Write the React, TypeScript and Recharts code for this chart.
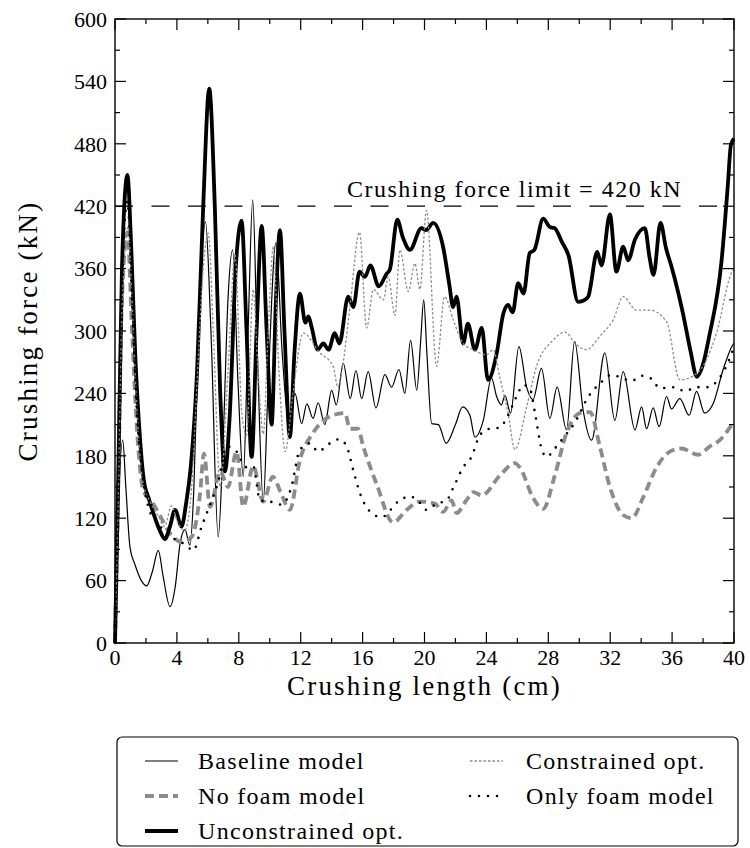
import React from "react";
import { LineChart, Line, XAxis, YAxis, ReferenceLine } from "recharts";

// crushing force curves, [length (cm), force (kN)]
const baseline: [number, number][] = [
  [0, 0], [0.2, 120], [0.5, 195], [0.7, 150], [0.97, 92], [1.3, 75], [1.7, 60], [2.05, 55],
  [2.4, 68], [2.8, 89], [3.1, 65], [3.55, 35], [3.9, 55], [4.2, 95], [4.52, 109], [4.84, 94],
  [5.1, 150], [5.4, 300], [5.85, 405], [6.2, 300], [6.67, 102], [7.0, 200], [7.3, 330],
  [7.6, 378], [7.95, 250], [8.29, 160], [8.6, 300], [8.9, 426], [9.2, 280], [9.58, 136],
  [9.9, 250], [10.4, 385], [10.8, 280], [11.2, 215], [11.63, 240], [12.06, 211], [12.4, 230],
  [12.8, 216], [13.13, 231], [13.56, 210], [14.0, 243], [14.3, 229], [14.75, 269], [15.2, 235],
  [15.57, 262], [15.94, 235], [16.36, 261], [16.86, 226], [17.44, 258], [17.87, 246],
  [18.35, 263], [18.73, 240], [19.1, 291], [19.5, 243], [19.75, 290], [19.95, 330],
  [20.15, 280], [20.46, 211], [20.9, 210], [21.4, 192], [22.0, 210], [22.46, 227],
  [22.93, 219], [23.26, 198], [23.8, 214], [24.33, 255], [24.66, 237], [24.97, 229],
  [25.2, 238], [25.56, 221], [26.1, 285], [26.6, 246], [27.0, 234], [27.56, 264], [28.1, 216],
  [28.57, 246], [29.18, 205], [29.7, 290], [30.25, 224], [30.8, 195], [31.65, 279],
  [32.3, 214], [32.84, 261], [33.6, 205], [34.03, 227], [34.35, 206], [34.78, 226],
  [35.16, 208], [35.64, 237], [35.96, 225], [36.5, 235], [37.1, 219], [37.58, 242],
  [38.1, 221], [38.65, 230], [39.3, 263], [39.94, 287], [40, 288],
];

const noFoam: [number, number][] = [
  [0, 0], [0.2, 140], [0.45, 330], [0.8, 395], [1.1, 300], [1.4, 210], [1.83, 147],
  [2.47, 134], [3.0, 120], [3.44, 108], [3.9, 100], [4.3, 97], [4.95, 102], [5.5, 144],
  [5.75, 182], [6.14, 131], [6.8, 165], [7.3, 150], [7.86, 184], [8.29, 131], [8.93, 170],
  [9.58, 136], [10.2, 160], [10.7, 145], [11.3, 128], [11.95, 176], [12.8, 202], [13.9, 218],
  [14.86, 221], [15.18, 206], [15.7, 206], [16.04, 189], [16.9, 153], [17.98, 116],
  [18.84, 128], [19.7, 136], [20.67, 134], [21.2, 126], [21.75, 137], [22.07, 125],
  [22.7, 137], [23.15, 145], [23.7, 142], [24.87, 161], [25.84, 173], [26.2, 168], [27, 140],
  [27.67, 129], [28.4, 160], [29.18, 202], [30.04, 221], [30.7, 222], [31.33, 189],
  [31.98, 150], [32.84, 123], [33.4, 120], [34.13, 140], [35, 169], [35.85, 184], [36.6, 187],
  [37.68, 181], [38.44, 189], [39.08, 195], [39.94, 211], [40, 212],
];

const unconstrained: [number, number][] = [
  [0, 0], [0.2, 150], [0.45, 360], [0.8, 450], [1.05, 380], [1.3, 280], [1.6, 200],
  [1.85, 158], [2.2, 138], [2.5, 124], [2.9, 108], [3.23, 100], [3.55, 112], [3.88, 128],
  [4.3, 112], [4.6, 135], [4.9, 170], [5.3, 260], [5.7, 420], [6.09, 533], [6.45, 420],
  [6.8, 240], [7.1, 165], [7.4, 215], [7.8, 360], [8.18, 406], [8.5, 300], [8.83, 179],
  [9.15, 300], [9.48, 401], [9.8, 300], [10.12, 210], [10.4, 330], [10.66, 397], [10.95, 300],
  [11.3, 198], [11.6, 280], [11.95, 336], [12.3, 308], [12.5, 314], [12.7, 304], [13.1, 282],
  [13.46, 288], [13.8, 282], [14.2, 298], [14.5, 288], [15.07, 333], [15.4, 323], [15.8, 357],
  [16.15, 352], [16.5, 363], [17.05, 343], [17.55, 355], [17.76, 359], [18.24, 407],
  [18.6, 390], [19.06, 378], [19.8, 399], [20.1, 397], [20.56, 404], [21.2, 381], [21.6, 345],
  [21.85, 323], [22.07, 333], [22.5, 288], [22.8, 307], [23.26, 282], [23.7, 303], [24.1, 253],
  [24.66, 278], [25.1, 317], [25.4, 325], [25.7, 318], [26.05, 346], [26.4, 336], [26.8, 375],
  [27.1, 378], [27.67, 408], [28.1, 400], [28.4, 399], [28.9, 385], [29.3, 373], [29.93, 328],
  [30.36, 330], [30.58, 333], [31.16, 376], [31.44, 363], [31.98, 412], [32.4, 357],
  [32.84, 381], [33.16, 368], [33.6, 388], [34.24, 399], [34.55, 370], [34.8, 354],
  [35.25, 404], [35.6, 380], [35.96, 362], [36.7, 317], [37.2, 280], [37.6, 256], [38.0, 268],
  [38.4, 295], [39.2, 368], [39.6, 440], [39.8, 479], [40, 485],
];

const constrained: [number, number][] = [
  [0, 0], [0.2, 130], [0.45, 320], [0.85, 400], [1.1, 330], [1.4, 230], [1.8, 155],
  [2.3, 135], [2.8, 122], [3.2, 112], [3.66, 132], [4.0, 118], [4.5, 108], [4.9, 140],
  [5.3, 250], [5.7, 360], [6.03, 394], [6.35, 300], [6.8, 150], [7.3, 260], [7.75, 374],
  [8.2, 220], [8.5, 200], [8.93, 340], [9.25, 260], [9.58, 201], [9.9, 300], [10.23, 381],
  [10.6, 260], [11.0, 184], [11.5, 240], [12.16, 298], [13.24, 279], [14.1, 266], [14.4, 246],
  [14.75, 270], [15.18, 323], [15.8, 395], [16.26, 303], [16.7, 340], [17.34, 330],
  [17.66, 352], [18.09, 315], [18.41, 378], [18.95, 338], [19.38, 365], [19.7, 340],
  [20.13, 416], [20.78, 266], [21.3, 333], [21.85, 311], [22.5, 288], [23.15, 282], [24.0, 277],
  [24.44, 282], [24.87, 255], [25.4, 221], [25.84, 186], [26.6, 227], [27.24, 266], [28.3, 291],
  [29.07, 299], [29.8, 287], [30.47, 282], [31.33, 295], [32.2, 311], [32.84, 333], [33.7, 320],
  [34.56, 320], [35.64, 309], [36.5, 253], [37.58, 259], [38.87, 298], [39.84, 356], [40, 360],
];

const onlyFoam: [number, number][] = [
  [0, 0], [0.2, 140], [0.45, 340], [0.8, 425], [1.1, 330], [1.4, 225], [1.8, 160],
  [2.26, 126], [2.8, 115], [3.3, 105], [3.98, 99], [4.5, 95], [5.06, 89], [5.6, 112],
  [6.14, 133], [6.67, 155], [7.2, 189], [7.8, 185], [8.5, 169], [8.93, 170], [9.37, 137],
  [10.0, 136], [10.77, 133], [11.4, 150], [11.95, 186], [12.6, 192], [13.13, 184], [13.78, 191],
  [14.5, 196], [14.97, 189], [15.4, 166], [15.83, 144], [16.58, 125], [17.23, 121], [18.3, 136],
  [19.06, 141], [19.7, 135], [20.14, 128], [20.78, 134], [21.43, 137], [21.85, 149], [22.5, 169],
  [23.04, 179], [23.58, 200], [24.22, 206], [24.87, 207], [25.3, 216], [25.95, 237],
  [26.38, 248], [26.8, 245], [27.13, 222], [27.56, 187], [27.89, 179], [28.42, 187],
  [28.96, 197], [29.8, 214], [30.47, 234], [31.44, 251], [32.09, 258], [32.73, 255],
  [33.38, 252], [34.03, 257], [34.67, 254], [35.2, 245], [36.18, 246], [36.82, 242],
  [37.58, 246], [38.33, 246], [38.97, 253], [39.4, 263], [39.73, 274], [40, 285],
];

const forceLimit = 420;
const xTicks = [0, 2, 4, 6, 8, 10, 12, 14, 16, 18, 20, 22, 24, 26, 28, 30, 32, 34, 36, 38, 40];
const yTicks = [0, 30, 60, 90, 120, 150, 180, 210, 240, 270, 300, 330, 360, 390, 420, 450, 480, 510, 540, 570, 600];

const toPts = (arr: [number, number][]) => arr.map(([x, y]) => ({ x, y }));

const series = [
  { name: "Baseline model", data: toPts(baseline), stroke: "#000", width: 1.2, dash: undefined, cap: "butt" },
  { name: "No foam model", data: toPts(noFoam), stroke: "#8c8c8c", width: 3.8, dash: "9 5", cap: "butt" },
  { name: "Unconstrained opt.", data: toPts(unconstrained), stroke: "#000", width: 3.8, dash: undefined, cap: "butt" },
  { name: "Constrained opt.", data: toPts(constrained), stroke: "#8c8c8c", width: 1.3, dash: "2.5 2", cap: "butt" },
  { name: "Only foam model", data: toPts(onlyFoam), stroke: "#000", width: 2.6, dash: "0 9", cap: "round" },
];

const FONT = "'Liberation Serif', serif";
const L = 115, R = 734, T = 19, B = 643;

const XTick = (props: any) => {
  const { x, payload } = props;
  const major = payload.value % 4 === 0;
  const len = major ? 11 : 5;
  return (
    <g>
      <line x1={x} x2={x} y1={B} y2={B - len} stroke="#000" strokeWidth={1.2} />
      <line x1={x} x2={x} y1={T} y2={T + len} stroke="#000" strokeWidth={1.2} />
      {major && (
        <text x={x} y={B + 22} textAnchor="middle" fontSize={22} fontFamily={FONT} fill="#000">
          {payload.value}
        </text>
      )}
    </g>
  );
};

const YTick = (props: any) => {
  const { y, payload } = props;
  const major = payload.value % 60 === 0;
  const len = major ? 11 : 5;
  return (
    <g>
      <line x1={L} x2={L + len} y1={y} y2={y} stroke="#000" strokeWidth={1.2} />
      <line x1={R} x2={R - len} y1={y} y2={y} stroke="#000" strokeWidth={1.2} />
      {major && (
        <text x={L - 8} y={y} dy="0.35em" textAnchor="end" fontSize={22} fontFamily={FONT} fill="#000">
          {payload.value}
        </text>
      )}
    </g>
  );
};

const LegendBox = () => {
  const slots = [
    [0, 0], [0, 1], [0, 2], [1, 0], [1, 1],
  ];
  return (
    <svg width={750} height={848} style={{ position: "absolute", left: 0, top: 0, pointerEvents: "none" }}>
      <rect x={L} y={T} width={R - L} height={B - T} fill="none" stroke="#000" strokeWidth={1.4} />
      <rect x={117} y={737} width={621} height={109} rx={5} fill="#fff" stroke="#000" strokeWidth={1.2} />
      {series.map((s, i) => {
        const [col, row] = slots[i];
        const sx = col === 0 ? 145 : 470;
        const tx = col === 0 ? 198 : 526;
        const cy = 761 + row * 35;
        return (
          <g key={s.name}>
            <line x1={sx} x2={sx + 33} y1={cy} y2={cy} stroke={s.stroke} strokeWidth={s.width}
              strokeDasharray={s.dash} strokeLinecap={s.cap as any} />
            <text x={tx} y={cy} dy="0.35em" fontSize={24} letterSpacing={1.3} fontFamily={FONT} fill="#000">
              {s.name}
            </text>
          </g>
        );
      })}
    </svg>
  );
};

export default function App() {
  return (
    <div style={{ position: "absolute", left: 0, top: 0, width: 750, height: 848, background: "#fff", overflow: "hidden" }}>
      <LineChart width={750} height={848} margin={{ top: T, right: 750 - R, bottom: 848 - B - 40, left: 55 }}>
        <XAxis
          type="number"
          dataKey="x"
          domain={[0, 40]}
          ticks={xTicks}
          interval={0}
          height={40}
          axisLine={false}
          tickLine={false}
          tick={<XTick />}
          label={{
            content: () => (
              <text x={(L + R) / 2} y={695} textAnchor="middle" fontSize={27} letterSpacing={2.2}
                fontFamily={FONT} fill="#000">
                Crushing length (cm)
              </text>
            ),
          }}
        />
        <YAxis
          type="number"
          domain={[0, 600]}
          ticks={yTicks}
          interval={0}
          width={60}
          axisLine={false}
          tickLine={false}
          tick={<YTick />}
          label={{
            content: () => (
              <text x={37} y={(T + B) / 2} transform={`rotate(-90 37 ${(T + B) / 2})`} textAnchor="middle"
                fontSize={27} letterSpacing={2.2} fontFamily={FONT} fill="#000">
                Crushing force (kN)
              </text>
            ),
          }}
        />
        <ReferenceLine
          y={forceLimit}
          stroke="#000"
          strokeWidth={1.3}
          strokeDasharray="18 18.5"
          label={{
            content: () => (
              <text x={R - 52} y={197} textAnchor="end" fontSize={24} letterSpacing={1.5}
                fontFamily={FONT} fill="#000">
                Crushing force limit = 420 kN
              </text>
            ),
          }}
        />
        {series.map((s) => (
          <Line
            key={s.name}
            data={s.data}
            dataKey="y"
            name={s.name}
            type="monotone"
            stroke={s.stroke}
            strokeWidth={s.width}
            strokeDasharray={s.dash}
            strokeLinecap={s.cap as any}
            dot={false}
            isAnimationActive={false}
          />
        ))}
      </LineChart>
      <LegendBox />
    </div>
  );
}
